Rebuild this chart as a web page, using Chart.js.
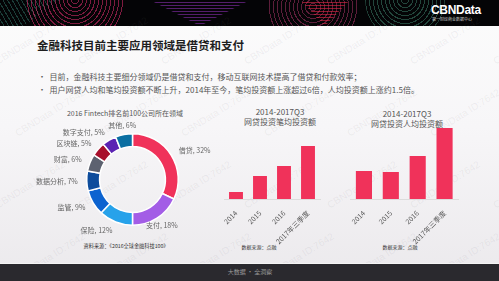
<!DOCTYPE html>
<html>
<head>
<meta charset="utf-8">
<script src="https://cdn.jsdelivr.net/npm/chart.js@4.4.0/dist/chart.umd.min.js"></script>
<style>
  body{margin:0;width:499px;height:281px;overflow:hidden;position:relative;
    font-family:"Noto Sans CJK SC","Noto Sans",sans-serif;
    background:linear-gradient(#fcfcfc 0%,#f7f6f8 45%,#ebe9ec 100%);}
  .abs{position:absolute;white-space:nowrap;}
  #banner{position:absolute;left:0;top:0;width:499px;height:26px;background:#040406;overflow:hidden;}
  .ring{position:absolute;border-radius:50%;}
  .ctr{position:absolute;width:240px;text-align:center;white-space:nowrap;}
  #footer{position:absolute;left:0;top:263px;width:499px;height:18px;background:#2a292e;border-top:1px solid #f4f4f4;}
  .wm{position:absolute;font-family:"Liberation Sans",sans-serif;font-size:10px;color:rgba(120,120,130,0.10);transform:rotate(-32deg);white-space:nowrap;}
  canvas{position:absolute;}
</style>
</head>
<body>
<div id="banner">
  <div class="abs" style="left:0;top:0;width:60px;height:26px;background:repeating-linear-gradient(60deg,transparent 0 3px,rgba(70,170,150,.35) 3px 4px);clip-path:polygon(0 0,100% 0,40% 100%,0 100%);"></div>
  <div class="ring" style="left:25px;top:-50px;width:100px;height:100px;background:repeating-radial-gradient(circle,transparent 0 3px,rgba(225,45,110,.55) 3px 4px);"></div>
  <div class="abs" style="left:150px;top:0;width:100px;height:26px;background:repeating-linear-gradient(0deg,transparent 0 2px,rgba(150,50,190,.55) 2px 3px);clip-path:polygon(0 0,100% 0,50% 100%);"></div>
  <div class="ring" style="left:268px;top:-38px;width:90px;height:90px;background:repeating-radial-gradient(circle,transparent 0 3px,rgba(200,60,120,.45) 3px 4px);"></div>
  <div class="abs" style="left:300px;top:0;width:50px;height:26px;background:repeating-linear-gradient(0deg,transparent 0 2px,rgba(230,40,70,.6) 2px 3px);clip-path:polygon(0 0,100% 0,50% 100%);"></div>
  <div class="ring" style="left:365px;top:-40px;width:80px;height:80px;background:repeating-radial-gradient(circle,transparent 0 3px,rgba(80,170,140,.4) 3px 4px);"></div>
  <div class="abs" style="left:431px;top:4px;font:bold 12px 'Liberation Sans',sans-serif;color:#fff;letter-spacing:-0.3px;line-height:12px;">CBNData</div>
  <div class="abs" style="left:432px;top:17px;font-size:4px;color:#ccc;line-height:5px;">第一财经商业数据中心</div>
</div>

<div id="wms"></div>

<div class="abs" style="left:37px;top:36px;font-size:11.5px;font-weight:bold;color:#1e1e1e;line-height:18px;">金融科技目前主要应用领域是借贷和支付</div>
<div class="abs" style="left:38px;top:70px;font-size:8px;color:#555;line-height:13px;">•&nbsp;&nbsp;目前，金融科技主要细分领域仍是借贷和支付，移动互联网技术提高了借贷和付款效率；<br>•&nbsp;&nbsp;用户网贷人均和笔均投资额不断上升，2014年至今，笔均投资额上涨超过6倍，人均投资额上涨约1.5倍。</div>

<div class="ctr" style="left:5px;top:108px;font-size:7px;color:#555;line-height:10px;">2016 Fintech排名前100公司所在领域</div>
<div class="ctr" style="left:6px;top:242px;font-size:5.2px;color:#333;line-height:7px;">资料来源：《2016全球金融科技100》</div>

<div class="ctr" style="left:160px;top:107px;font-size:8px;color:#555;line-height:10px;">2014-2017Q3<br>网贷投资笔均投资额</div>
<div class="ctr" style="left:287px;top:109px;font-size:8px;color:#555;line-height:10px;">2014-2017Q3<br>网贷投资人均投资额</div>
<div class="ctr" style="left:139px;top:243px;font-size:5px;color:#333;line-height:7px;">数据来源：点融</div>
<div class="ctr" style="left:280px;top:243px;font-size:5px;color:#333;line-height:7px;">数据来源：点融</div>

<canvas id="donut" width="200" height="140" style="left:20px;top:110px;"></canvas>
<canvas id="bar1" width="116" height="140" style="left:214px;top:110px;"></canvas>
<canvas id="bar2" width="128" height="140" style="left:340px;top:110px;"></canvas>

<div id="footer"><div class="ctr" style="left:130px;top:4px;font-size:6px;color:#9a9a9a;line-height:8px;">大数据 · 全洞察</div></div>

<script>
  // donut: share of fintech top 100 companies by field (%)
  let donutLabels = ["借贷", "支付", "保险", "监管", "数据分析", "财富", "区块链", "数字支付", "其他"];
  let donutValues = [32, 18, 12, 9, 7, 6, 5, 5, 6];
  let donutColors = ["#f0325a", "#a35de6", "#27a2ea", "#0c63d0", "#0d4c9c", "#5d6270", "#a8102c", "#5b23b3", "#0b6fa2"];

  // bars (relative units)
  let barYears = ["2014", "2015", "2016", "2017年三季度"];
  let perDealValues = [7, 23, 33, 53];
  let perUserValues = [28, 27, 43, 71];
  let barColor = "#f0325a";

  let fontFamily = "'Noto Sans CJK SC', 'Noto Sans', sans-serif";

  document.addEventListener("DOMContentLoaded", watermarks);
  document.addEventListener("DOMContentLoaded", donutChart);
  document.addEventListener("DOMContentLoaded", function(){
    barChart("bar1", perDealValues, 10, 10, 0.58);
    barChart("bar2", perUserValues, 10.5, 10, 0.6);
  });

  function watermarks(){
    let box = document.getElementById("wms");
    for (let row = 0; row < 4; row++) {
      for (let col = 0; col < 7; col++) {
        let d = document.createElement("div");
        d.className = "wm";
        d.textContent = "CBNData ID:7642";
        d.style.left = (col * 83 - 10 + (row % 2) * 20) + "px";
        d.style.top = (35 + row * 72) + "px";
        box.appendChild(d);
      }
    }
  }

  // labels drawn next to each arc
  let arcLabels = {
    id: "arcLabels",
    afterDatasetsDraw(chart) {
      let ctx = chart.ctx;
      let meta = chart.getDatasetMeta(0);
      ctx.save();
      ctx.font = "7px " + fontFamily;
      ctx.fillStyle = "#666";
      ctx.textBaseline = "middle";
      meta.data.forEach(function(arc, i){
        let p = arc.getProps(["x", "y", "startAngle", "endAngle", "outerRadius"], true);
        let mid = (p.startAngle + p.endAngle) / 2;
        let r = p.outerRadius + 9;
        let c = Math.cos(mid);
        let tx = p.x + c * r;
        let ty = p.y + Math.sin(mid) * r;
        if (c > 0.6) ctx.textAlign = "left";
        else if (c < -0.3) ctx.textAlign = "right";
        else ctx.textAlign = "center";
        ctx.fillText(donutLabels[i] + ", " + donutValues[i] + "%", tx, ty);
      });
      ctx.restore();
    }
  };

  function donutChart(){
    new Chart(document.getElementById("donut"), {
      type: "doughnut",
      data: {
        labels: donutLabels,
        datasets: [{
          data: donutValues,
          backgroundColor: donutColors,
          borderColor: "#ffffff",
          borderWidth: 1.5
        }]
      },
      options: {
        responsive: false,
        animation: false,
        cutout: "72%",
        layout: { padding: { left: 66, right: 41, top: 23, bottom: 24 } },
        plugins: { legend: { display: false }, tooltip: { enabled: false } }
      },
      plugins: [arcLabels]
    });
  }

  function barChart(id, values, padLeft, padRight, barPct){
    new Chart(document.getElementById(id), {
      type: "bar",
      data: {
        labels: barYears,
        datasets: [{
          data: values,
          backgroundColor: barColor,
          categoryPercentage: 1,
          barPercentage: barPct
        }]
      },
      options: {
        responsive: false,
        animation: false,
        layout: { padding: { left: padLeft, right: padRight, top: 0, bottom: 0 } },
        plugins: { legend: { display: false }, tooltip: { enabled: false } },
        scales: {
          x: {
            grid: { display: false },
            border: { display: true, color: "#dcdcdc" },
            ticks: { minRotation: 45, maxRotation: 45, padding: 2, color: "#555", font: { size: 7, family: fontFamily } },
            afterFit: function(scale){ scale.height = 51; }
          },
          y: { display: false, min: 0, max: 89 }
        }
      }
    });
  }
</script>
</body>
</html>
